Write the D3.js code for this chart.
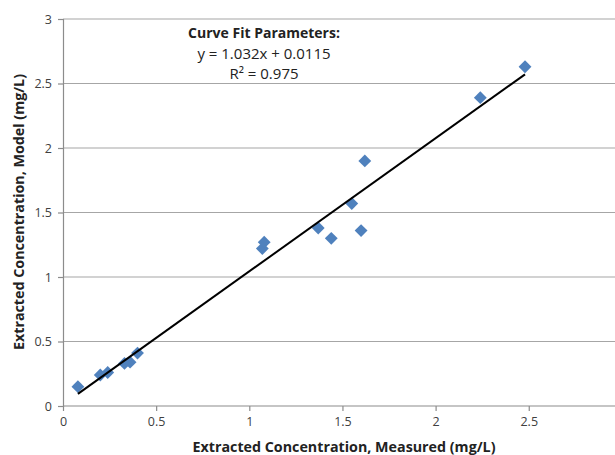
<!DOCTYPE html>
<html>
<head>
<meta charset="utf-8">
<script src="https://cdn.jsdelivr.net/npm/d3@7"></script>
<style>
  body { margin: 0; background: #fff; }
  text { font-family: "Open Sans", "Liberation Sans", sans-serif; }
</style>
</head>
<body>
<svg id="chart"></svg>
<script>

// measured vs model concentrations (mg/L)
var measured = [0.08, 0.20, 0.24, 0.33, 0.36, 0.40, 1.07, 1.08, 1.37, 1.44, 1.55, 1.60, 1.62, 2.24, 2.48];
var model    = [0.15, 0.24, 0.26, 0.33, 0.34, 0.41, 1.22, 1.27, 1.38, 1.30, 1.57, 1.36, 1.90, 2.39, 2.63];

// fit line parameters
var slope = 1.032;
var intercept = 0.0115;
var r2 = 0.975;

var xTicks = [0, 0.5, 1, 1.5, 2, 2.5, 3];
var yTicks = [0, 0.5, 1, 1.5, 2, 2.5, 3];

var fitLabels = ["Curve Fit Parameters:", "y = " + slope + "x + " + intercept, "R\u00B2 = " + r2];

var config = {
  w: 615,
  h: 455,
  left: 63,
  top: 19,
  bottom: 406,
  unitX: 186.3
};

var svg = d3.select("#chart")
  .attr("width", config.w)
  .attr("height", config.h);

var x = d3.scaleLinear()
  .domain([0, 3])
  .range([config.left, config.left + 3 * config.unitX]);

var y = d3.scaleLinear()
  .domain([0, 3])
  .range([config.bottom, config.top]);

// horizontal gridlines
svg.append("g")
  .selectAll("line")
  .data(yTicks.slice(1))
  .enter()
  .append("line")
    .attr("x1", config.left)
    .attr("x2", config.w)
    .attr("y1", function(d) { return y(d); })
    .attr("y2", function(d) { return y(d); })
    .attr("stroke", "#a6a6a6")
    .attr("stroke-width", 1.2);

// axes
var xAxis = svg.append("g")
  .attr("transform", "translate(0," + config.bottom + ")")
  .call(d3.axisBottom(x).tickValues(xTicks).tickSize(5).tickPadding(6)
    .tickFormat(d3.format("")));

var yAxis = svg.append("g")
  .attr("transform", "translate(" + config.left + ",0)")
  .call(d3.axisLeft(y).tickValues(yTicks).tickSize(5).tickPadding(6)
    .tickFormat(d3.format("")));

[xAxis, yAxis].forEach(function(g) {
  g.select(".domain").attr("stroke", "#8c8c8c").attr("stroke-width", 1.2);
  g.selectAll(".tick line").attr("stroke", "#8c8c8c").attr("stroke-width", 1.2);
  g.selectAll(".tick text").attr("font-size", 12.5).attr("fill", "#404040");
});
xAxis.select(".domain").attr("d", "M" + config.left + ",0H" + config.w);

// data points as diamonds
var points = measured.map(function(m, i) { return {x: m, y: model[i]}; });

svg.append("g")
  .selectAll("path")
  .data(points)
  .enter()
  .append("path")
    .attr("d", d3.symbol().type(d3.symbolDiamond2).size(105))
    .attr("transform", function(d) { return "translate(" + x(d.x) + "," + y(d.y) + ")"; })
    .attr("fill", "#4f81bd");

// fit line across measured range
var xMin = d3.min(measured), xMax = d3.max(measured);
var fit = [xMin, xMax].map(function(v) { return {x: v, y: slope * v + intercept}; });

svg.append("path")
  .datum(fit)
  .attr("d", d3.line().x(function(d) { return x(d.x); }).y(function(d) { return y(d.y); }))
  .attr("stroke", "#000")
  .attr("stroke-width", 2)
  .attr("fill", "none");

// curve fit annotation
svg.append("g")
  .selectAll("text")
  .data(fitLabels)
  .enter()
  .append("text")
    .attr("x", 264)
    .attr("y", function(d, i) { return 38 + i * 20.5; })
    .attr("text-anchor", "middle")
    .attr("font-size", function(d, i) { return i == 0 ? 14 : 15; })
    .attr("font-weight", function(d, i) { return i == 0 ? "bold" : "normal"; })
    .attr("fill", "#222")
    .text(function(d) { return d; });

// axis titles
svg.append("text")
  .attr("x", 344)
  .attr("y", 452)
  .attr("text-anchor", "middle")
  .attr("font-size", 14.5)
  .attr("font-weight", "bold")
  .attr("fill", "#222")
  .attr("textLength", 303)
  .attr("lengthAdjust", "spacingAndGlyphs")
  .text("Extracted Concentration, Measured (mg/L)");

svg.append("text")
  .attr("transform", "translate(24,212) rotate(-90)")
  .attr("text-anchor", "middle")
  .attr("font-size", 14.5)
  .attr("font-weight", "bold")
  .attr("fill", "#222")
  .attr("textLength", 276)
  .attr("lengthAdjust", "spacingAndGlyphs")
  .text("Extracted Concentration, Model (mg/L)");

</script>
</body>
</html>
